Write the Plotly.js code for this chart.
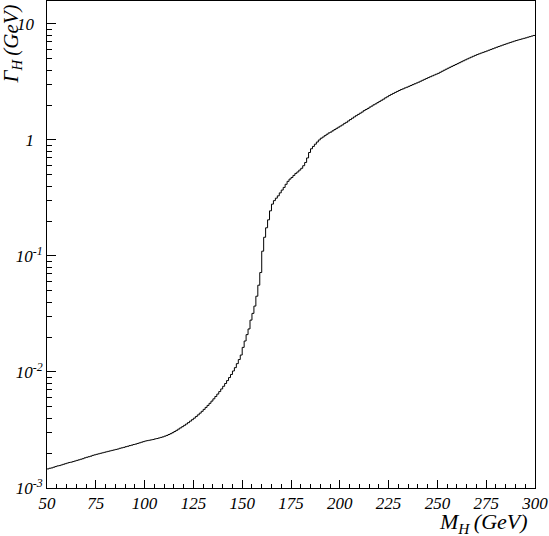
<!DOCTYPE html>
<html>
<head>
<meta charset="utf-8">
<script src="https://cdn.plot.ly/plotly-3.0.1.min.js"></script>
<style>html,body{margin:0;padding:0;background:#fff;}</style>
</head>
<body>
<div id="chart" style="width:549px;height:536px;"></div>
<script>
// Higgs width (GeV) per 1 GeV mass bin, bins starting at 50 GeV
var massStart = 50;
var binWidth = 1;
var width50to99 = [
  0.00146,0.00148,0.00149,0.00151,0.00153,0.00155,0.00156,0.00158,0.00160,0.00162,
  0.00164,0.00166,0.00167,0.00169,0.00171,0.00173,0.00175,0.00177,0.00179,0.00182,
  0.00184,0.00186,0.00188,0.00191,0.00193,0.00195,0.00197,0.00199,0.00201,0.00203,
  0.00205,0.00207,0.00209,0.00211,0.00213,0.00215,0.00217,0.00220,0.00222,0.00224,
  0.00227,0.00229,0.00232,0.00234,0.00237,0.00239,0.00242,0.00245,0.00248,0.00251
];
var width100to149 = [
  0.00254,0.00256,0.00258,0.00260,0.00262,0.00265,0.00267,0.00270,0.00273,0.00276,
  0.00280,0.00284,0.00289,0.00294,0.00300,0.00307,0.00314,0.00322,0.00330,0.00338,
  0.00347,0.00356,0.00366,0.00377,0.00388,0.00400,0.00413,0.00427,0.00442,0.00458,
  0.00476,0.00495,0.00515,0.00537,0.00561,0.00587,0.00615,0.00645,0.00678,0.00714,
  0.00753,0.00796,0.00843,0.00895,0.00952,0.0102,0.0109,0.0118,0.0128,0.0140
];
var width150to199 = [
  0.0163,0.0185,0.0210,0.0235,0.0280,0.0320,0.0370,0.0450,0.0560,0.0720,
  0.110,0.145,0.175,0.205,0.245,0.280,0.300,0.315,0.330,0.350,
  0.370,0.390,0.415,0.440,0.460,0.475,0.495,0.515,0.530,0.550,
  0.570,0.600,0.640,0.700,0.780,0.840,0.880,0.920,0.960,1.00,
  1.035,1.06,1.09,1.12,1.15,1.17,1.20,1.23,1.26,1.29
];
var width200to249 = [
  1.32,1.35,1.39,1.42,1.46,1.50,1.54,1.58,1.62,1.66,
  1.70,1.74,1.79,1.83,1.87,1.92,1.96,2.01,2.05,2.10,
  2.15,2.20,2.25,2.31,2.36,2.42,2.47,2.52,2.57,2.62,
  2.67,2.72,2.76,2.81,2.85,2.90,2.95,3.00,3.05,3.10,
  3.15,3.21,3.27,3.33,3.39,3.45,3.51,3.57,3.63,3.69
];
var width250to299 = [
  3.75,3.83,3.91,3.99,4.07,4.15,4.23,4.31,4.39,4.47,
  4.55,4.64,4.73,4.82,4.91,5.00,5.09,5.18,5.27,5.36,
  5.45,5.53,5.61,5.69,5.77,5.85,5.94,6.03,6.12,6.21,
  6.30,6.39,6.48,6.57,6.66,6.75,6.84,6.93,7.02,7.11,
  7.20,7.28,7.36,7.44,7.52,7.60,7.69,7.78,7.87,7.96
];
var yTickVals = [0.001, 0.01, 0.1, 1, 10];
var yTickText = ['10<sup>-3</sup>', '10<sup>-2</sup>', '10<sup>-1</sup>', '1\u00a0\u00a0', '10\u00a0\u00a0'];
var xAxisTitle = '<i>M</i><sub><i>H</i></sub><i>\u2009(GeV)</i>';
var yAxisTitle = '<i>\u0393</i><sub><i>H</i></sub><i>\u2009(GeV)</i>';

var widths = [].concat(width50to99, width100to149, width150to199, width200to249, width250to299);
var edges = [];
for (var i = 0; i <= widths.length; i++) edges.push(massStart + i * binWidth);
var yStep = widths.concat([widths[widths.length - 1]]);

var minorY = [];
for (var d = -3; d <= 1; d++) {
  for (var k = 2; k <= 9; k++) minorY.push(k * Math.pow(10, d));
}

var tickFont = {family: 'Liberation Serif', size: 17, color: '#000', style: 'italic'};

var trace = {
  x: edges, y: yStep, type: 'scatter', mode: 'lines',
  line: {shape: 'hv', color: '#000', width: 1},
  hoverinfo: 'x+y', showlegend: false
};

var layout = {
  width: 549, height: 536,
  margin: {l: 47, r: 14, t: 1, b: 48, pad: 0},
  paper_bgcolor: '#fff', plot_bgcolor: '#fff',
  showlegend: false,
  xaxis: {
    range: [50, 300], showline: true, linecolor: '#000', linewidth: 1, mirror: true,
    showgrid: false, zeroline: false,
    tickmode: 'linear', tick0: 50, dtick: 25,
    ticks: 'inside', ticklen: 8, tickwidth: 1, tickcolor: '#000',
    minor: {tickmode: 'linear', tick0: 50, dtick: 5, ticks: 'inside', ticklen: 4, tickwidth: 1, tickcolor: '#000', showgrid: false},
    tickfont: tickFont
  },
  yaxis: {
    type: 'log', range: [-3, 1.198], showline: true, linecolor: '#000', linewidth: 1, mirror: true,
    showgrid: false, zeroline: false,
    tickmode: 'array', tickvals: yTickVals, ticktext: yTickText,
    ticks: 'inside', ticklen: 9, tickwidth: 1, tickcolor: '#000',
    minor: {tickmode: 'array', tickvals: minorY, ticks: 'inside', ticklen: 5, tickwidth: 1, tickcolor: '#000', showgrid: false},
    tickfont: tickFont
  },
  annotations: [
    {text: xAxisTitle, xref: 'paper', yref: 'paper', x: 1, y: 0, xanchor: 'right', yanchor: 'top',
     xshift: -5, yshift: -19, showarrow: false,
     font: {family: 'Liberation Serif', size: 22, color: '#000'}},
    {text: yAxisTitle, xref: 'paper', yref: 'paper', x: 0, y: 1, xanchor: 'center', yanchor: 'top',
     xshift: -36, yshift: -2, textangle: -90, showarrow: false,
     font: {family: 'Liberation Serif', size: 21, color: '#000'}}
  ]
};

Plotly.newPlot('chart', [trace], layout, {displayModeBar: false, staticPlot: true});
</script>
</body>
</html>
